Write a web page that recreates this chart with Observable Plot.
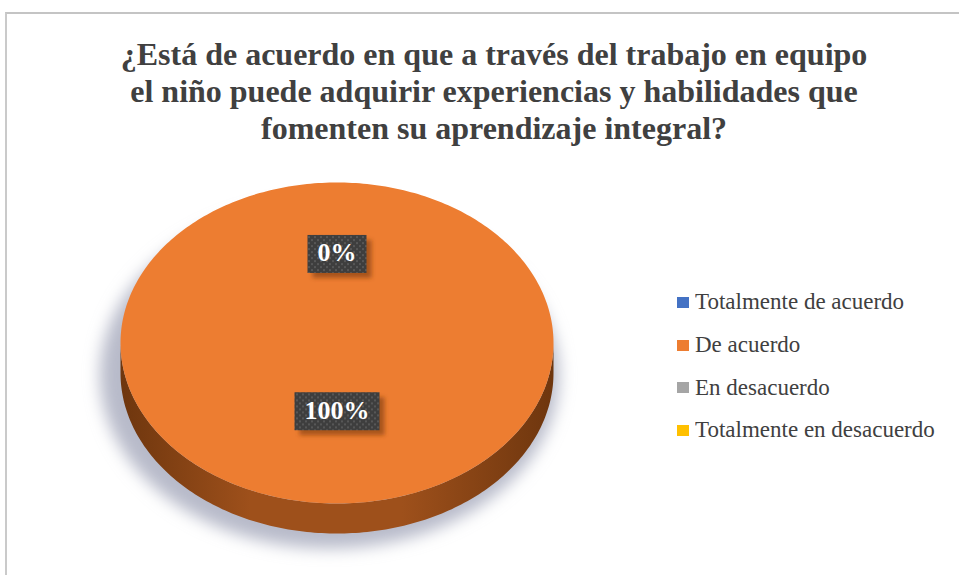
<!DOCTYPE html>
<html>
<head>
<meta charset="utf-8">
<script src="https://cdn.jsdelivr.net/npm/d3@7"></script>
<script src="https://cdn.jsdelivr.net/npm/@observablehq/plot@0.6"></script>
<style>
  body { margin: 0; background: #fff; }
  #wrap { position: relative; width: 959px; height: 575px; overflow: hidden; background: #fff;
          font-family: "Liberation Serif", "Times New Roman", serif; }
  #frame { position: absolute; left: 5px; top: 12px; width: 1000px; height: 620px;
           border-top: 2px solid #c4c4c4; border-left: 2px solid #cacaca; box-sizing: border-box; }
  #title { position: absolute; top: 36px; left: 494px; transform: translateX(-50%);
           white-space: nowrap; text-align: center; font-weight: bold; font-size: 32px;
           line-height: 37px; color: #404040; }
  #chart { position: absolute; left: 0; top: 0; width: 959px; height: 575px; }
  #chart svg { max-width: none !important; }
  #legend { position: absolute; left: 677px; top: 281px; width: 280px; }
  #legend .lg-swatches { font-family: "Liberation Serif", "Times New Roman", serif; font-size: 23px; color: #404040; margin: 0; }
  #legend .lg-swatch { height: 42.7px; display: flex; align-items: center; padding: 0; }
  #legend .lg-swatch svg { margin-right: 6px; }
</style>
</head>
<body>
<div id="wrap">
  <div id="frame"></div>
  <div id="title"></div>
  <div id="chart"></div>
  <div id="legend"></div>
</div>
<script>
// ---- data ----
const categories = ["Totalmente de acuerdo", "De acuerdo", "En desacuerdo", "Totalmente en desacuerdo"];
const percentages = [0, 100, 0, 0];
const colors = ["#4472C4", "#ED7D31", "#A5A5A5", "#FFC000"];
const sideColors = [["#24406f", "#365a98"], ["#6e360e", "#9e501b"], ["#5e5e5e", "#808080"], ["#8f6b00", "#bb8c00"]];
const titleLines = [
  "¿Está de acuerdo en que a través del trabajo en equipo",
  "el niño puede adquirir experiencias y habilidades que",
  "fomenten su aprendizaje integral?"
];

// ---- title ----
document.getElementById("title").innerHTML = titleLines.join("<br>");

// ---- pie geometry (unit circle, tilted via x/y scales) ----
const rows = categories.map((c, i) => ({cat: c, value: percentages[i], i}));
const slices = d3.pie().sort(null).value(d => d.value)(rows);
const depth = 0.187;             // side thickness in y units
const step = Math.PI / 180;

const topPts = [];
const sideSets = [];
for (const s of slices) {
  const a0 = s.startAngle, a1 = s.endAngle;
  if (a1 - a0 <= 0) continue;
  const n = Math.max(2, Math.ceil((a1 - a0) / step));
  topPts.push({cat: s.data.cat, x: 0, y: 0});
  for (let k = 0; k <= n; k++) {
    const a = a0 + (a1 - a0) * k / n;
    topPts.push({cat: s.data.cat, x: Math.sin(a), y: Math.cos(a)});
  }
  const lo = Math.max(a0, Math.PI / 2), hi = Math.min(a1, 3 * Math.PI / 2);
  if (hi > lo) {
    const m = Math.max(2, Math.ceil((hi - lo) / step));
    const pts = [];
    for (let k = 0; k <= m; k++) { const a = lo + (hi - lo) * k / m; pts.push({x: Math.sin(a), y: Math.cos(a)}); }
    for (let k = m; k >= 0; k--) { const a = lo + (hi - lo) * k / m; pts.push({x: Math.sin(a), y: Math.cos(a) - depth}); }
    sideSets.push({i: s.data.i, pts});
  }
}

const shadowPts = d3.range(0, 361).map(d => {
  const a = d * step;
  return {x: 1.06 * Math.sin(a) - 0.035, y: 1.08 * Math.cos(a) - 0.2};
});

// labels: one per distinct position (zero slices share the top)
const labelR = 0.49, labelLift = 0.07;
const seen = new Set();
const labelRows = [];
for (const s of slices) {
  const mid = (s.startAngle + s.endAngle) / 2;
  const lx = labelR * Math.sin(mid), ly = labelR * Math.cos(mid) + labelLift;
  const key = lx.toFixed(3) + "," + ly.toFixed(3);
  if (seen.has(key)) continue;
  seen.add(key);
  labelRows.push({x: lx, y: ly, text: s.data.value + "%"});
}

const marks = [
  Plot.line(shadowPts, {x: "x", y: "y", fill: "#b0b4c4", fillOpacity: 0.9, stroke: "none"}),
  ...sideSets.map(ss => Plot.line(ss.pts, {x: "x", y: "y", fill: `url(#side-${ss.i})`, stroke: "none"})),
  Plot.line(topPts, {x: "x", y: "y", z: "cat", fill: "cat", stroke: "none"}),
  Plot.text(labelRows, {x: "x", y: "y", text: "text", fill: "white", fontSize: 26, fontWeight: "bold",
                        fontFamily: "Liberation Serif"})
];
const plot = Plot.plot({
  width: 959,
  height: 575,
  margin: 0,
  style: {background: "transparent", overflow: "visible"},
  x: {domain: [-1, 1], range: [120, 553], axis: null},
  y: {domain: [-1, 1], range: [503, 182], axis: null},
  color: {domain: categories, range: colors},
  marks
});
document.getElementById("chart").appendChild(plot);

// ---- decorations: defs, filters, pattern, gradients, label boxes ----
const svg = d3.select(plot);
const groups = Array.from(plot.children).filter(n => n.tagName.toLowerCase() === "g");
const shadowG = groups[0];
const textG = groups[groups.length - 1];
const defs = svg.insert("defs", ":first-child");
defs.append("filter").attr("id", "blur").attr("x", "-20%").attr("y", "-20%").attr("width", "140%").attr("height", "140%")
  .append("feGaussianBlur").attr("stdDeviation", 8);
defs.append("filter").attr("id", "blur2").attr("x", "-30%").attr("y", "-30%").attr("width", "160%").attr("height", "160%")
  .append("feGaussianBlur").attr("stdDeviation", 2);
const pat = defs.append("pattern").attr("id", "checker").attr("width", 6).attr("height", 6).attr("patternUnits", "userSpaceOnUse");
pat.append("rect").attr("width", 6).attr("height", 6).attr("fill", "#3e3e3e");
pat.append("rect").attr("x", 1).attr("y", 1).attr("width", 2).attr("height", 2).attr("fill", "#575757");
pat.append("rect").attr("x", 4).attr("y", 4).attr("width", 2).attr("height", 2).attr("fill", "#575757");
sideColors.forEach((sc, i) => {
  const g = defs.append("linearGradient").attr("id", `side-${i}`).attr("x1", 0).attr("x2", 1).attr("y1", 0).attr("y2", 0);
  g.append("stop").attr("offset", "0%").attr("stop-color", sc[0]);
  g.append("stop").attr("offset", "30%").attr("stop-color", sc[1]);
  g.append("stop").attr("offset", "65%").attr("stop-color", sc[1]);
  g.append("stop").attr("offset", "100%").attr("stop-color", sc[0]);
});
if (shadowG) shadowG.setAttribute("filter", "url(#blur)");

if (textG) d3.select(textG).selectAll("text").each(function() {
  const b = this.getBBox();
  const tr = this.getAttribute("transform") || "";
  const cy = b.y + b.height / 2 + 1;
  const parent = this.parentNode;
  const sh = document.createElementNS("http://www.w3.org/2000/svg", "rect");
  sh.setAttribute("x", b.x - 10 + 5); sh.setAttribute("y", cy - 19 + 5);
  sh.setAttribute("width", b.width + 20); sh.setAttribute("height", 38);
  sh.setAttribute("fill", "#8a4414"); sh.setAttribute("fill-opacity", 0.7); sh.setAttribute("filter", "url(#blur2)");
  const box = document.createElementNS("http://www.w3.org/2000/svg", "rect");
  box.setAttribute("x", b.x - 10); box.setAttribute("y", cy - 19);
  box.setAttribute("width", b.width + 20); box.setAttribute("height", 38);
  box.setAttribute("fill", "url(#checker)");
  if (tr) { sh.setAttribute("transform", tr); box.setAttribute("transform", tr); }
  parent.insertBefore(sh, this);
  parent.insertBefore(box, this);
});

// ---- legend ----
const legend = Plot.legend({
  color: {type: "ordinal", domain: categories, range: colors},
  legend: "swatches",
  columns: 1,
  swatchWidth: 12,
  swatchHeight: 11,
  className: "lg"
});
document.getElementById("legend").appendChild(legend);
</script>
</body>
</html>
